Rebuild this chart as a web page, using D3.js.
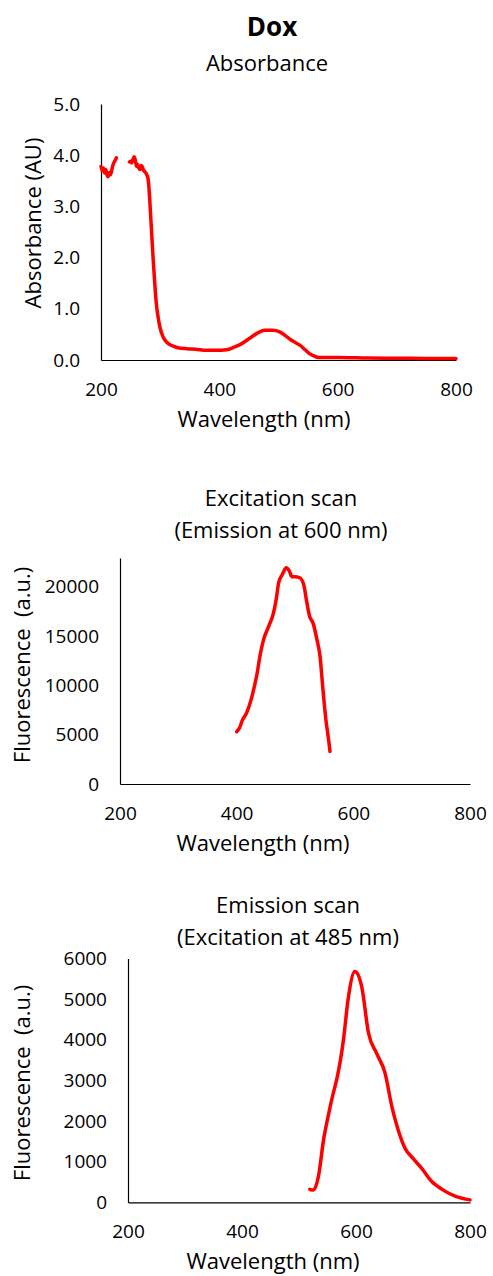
<!DOCTYPE html>
<html>
<head>
<meta charset="utf-8">
<script src="https://cdn.jsdelivr.net/npm/d3@7"></script>
<style>
  body { margin: 0; background: #fff; }
  svg text { font-family: "Open Sans", sans-serif; fill: #000; }
</style>
</head>
<body>
<div id="chart"></div>
<script>
// Absorbance spectrum (null = gap in the trace)
var absWl  = [200, 202, 204, 206, 208, 210, 212, 214, 216, 218, 220, 222, 224, 226, 236,
              248, 250, 252, 254, 256, 258, 260, 262, 264, 266, 268, 270, 272, 274, 276, 278, 280,
              282, 284, 286, 288, 290, 292, 294, 297, 300, 305, 310, 315, 322, 330, 345, 360, 378, 395,
              412, 425, 438, 452, 465, 477, 490, 502, 512, 520, 527, 536, 545, 553, 560, 567,
              600, 650, 700, 750, 800];
var absVal = [3.78, 3.70, 3.75, 3.65, 3.72, 3.62, 3.58, 3.66, 3.62, 3.70, 3.80, 3.86, 3.90, 3.95, null,
              3.87, 3.88, 3.85, 3.92, 3.97, 3.90, 3.78, 3.82, 3.75, 3.72, 3.80, 3.77, 3.70, 3.68, 3.65, 3.60, 3.50,
              3.20, 2.80, 2.40, 2.00, 1.65, 1.30, 1.05, 0.80, 0.62, 0.45, 0.36, 0.31, 0.27, 0.24, 0.22, 0.21, 0.19, 0.19,
              0.20, 0.25, 0.32, 0.43, 0.53, 0.58, 0.58, 0.55, 0.47, 0.40, 0.35, 0.29, 0.20, 0.12, 0.08, 0.05,
              0.05, 0.04, 0.035, 0.03, 0.03];

// Excitation scan (emission at 600 nm)
var exWl  = [400, 405, 410, 417, 425, 430, 435, 440, 446, 455, 463, 468, 472, 478, 485, 490,
             495, 500, 508, 515, 520, 525, 531, 537, 543, 548, 553, 558, 560];
var exVal = [5300, 5700, 6500, 7200, 8600, 9800, 11200, 13000, 14600, 16000, 17300, 18800, 20400, 21200, 21900, 21600,
             21000, 21000, 20900, 20200, 18500, 17000, 16300, 14800, 12900, 9500, 6500, 4300, 3300];

// Emission scan (excitation at 485 nm)
var emWl  = [519, 525, 534, 543, 551, 560, 566, 578, 586, 598, 610, 622, 636, 651, 663, 674,
             686, 700, 715, 733, 753, 776, 800];
var emVal = [320, 300, 630, 1530, 2110, 2680, 3010, 4000, 4980, 5680, 5310, 4160, 3670, 3180, 2350, 1780,
             1330, 1080, 840, 510, 300, 140, 60];

var xTicks = [200, 400, 600, 800];

var svg = d3.select("#chart").append("svg")
    .attr("width", 493)
    .attr("height", 1276);

// Figure title
svg.append("text")
    .attr("x", 272).attr("y", 27).attr("dy", "0.35em")
    .attr("text-anchor", "middle")
    .style("font-size", "26px").style("font-weight", "bold")
    .text("Dox");

function drawPanel(cfg) {
    var x = d3.scaleLinear().domain([200, 800]).range([cfg.left, cfg.right]);
    var y = d3.scaleLinear().domain([0, cfg.yMax]).range([cfg.bottom, cfg.top]);

    // chart titles
    cfg.titles.forEach(function (t, i) {
        svg.append("text")
            .attr("x", cfg.titleX).attr("y", cfg.titleY + i * 32).attr("dy", "0.35em")
            .attr("text-anchor", "middle")
            .style("font-size", "22px")
            .text(t);
    });

    // x axis
    var gx = svg.append("g")
        .attr("transform", "translate(0," + cfg.bottom + ")")
        .call(d3.axisBottom(x).tickValues(xTicks).tickSize(0).tickSizeOuter(0));
    gx.select(".domain").attr("stroke", "#000").attr("stroke-width", 1.2);
    gx.selectAll("text")
        .attr("y", 29).attr("dy", "0.35em")
        .style("font-size", "19px").style("font-family", "'Open Sans', sans-serif");

    // y axis
    var gy = svg.append("g")
        .attr("transform", "translate(" + cfg.left + ",0)")
        .call(d3.axisLeft(y).tickValues(cfg.yTicks).tickFormat(cfg.fmt).tickSize(0).tickSizeOuter(0).tickPadding(21));
    gy.select(".domain").attr("stroke", "#000").attr("stroke-width", 1.2);
    gy.selectAll("text")
        .style("font-size", "19px").style("font-family", "'Open Sans', sans-serif");

    // axis titles
    svg.append("text")
        .attr("x", cfg.xTitleX).attr("y", cfg.bottom + 59).attr("dy", "0.35em")
        .attr("text-anchor", "middle")
        .style("font-size", "22px")
        .text("Wavelength (nm)");

    svg.append("text")
        .attr("transform", "translate(" + cfg.yTitleX + "," + cfg.yTitleY + ") rotate(-90)")
        .attr("dy", "0.35em")
        .attr("text-anchor", "middle")
        .style("font-size", "22px")
        .style("white-space", "pre")
        .text(cfg.yTitle);

    // spectrum trace
    var pts = cfg.wl.map(function (w, i) { return [w, cfg.val[i]]; });
    var line = d3.line()
        .defined(function (d) { return d[1] !== null; })
        .x(function (d) { return x(d[0]); })
        .y(function (d) { return y(d[1]); })
        .curve(d3.curveMonotoneX);

    svg.append("path")
        .datum(pts)
        .attr("fill", "none")
        .attr("stroke", "#ff0000")
        .attr("stroke-width", 3.5)
        .attr("stroke-linejoin", "round")
        .attr("stroke-linecap", "round")
        .attr("d", line);
}

drawPanel({
    left: 101, right: 456, top: 104, bottom: 360, yMax: 5,
    yTicks: [0, 1, 2, 3, 4, 5], fmt: d3.format(".1f"),
    titles: ["Absorbance"], titleX: 267, titleY: 63,
    xTitleX: 264, yTitleX: 33, yTitleY: 223, yTitle: "Absorbance (AU)",
    wl: absWl, val: absVal
});

drawPanel({
    left: 120, right: 470, top: 558, bottom: 784, yMax: 22900,
    yTicks: [0, 5000, 10000, 15000, 20000], fmt: d3.format("d"),
    titles: ["Excitation scan", "(Emission at 600 nm)"], titleX: 281, titleY: 498,
    xTitleX: 263, yTitleX: 22, yTitleY: 665, yTitle: "Fluorescence  (a.u.)",
    wl: exWl, val: exVal
});

drawPanel({
    left: 128, right: 470, top: 958.5, bottom: 1202.3, yMax: 6000,
    yTicks: [0, 1000, 2000, 3000, 4000, 5000, 6000], fmt: d3.format("d"),
    titles: ["Emission scan", "(Excitation at 485 nm)"], titleX: 288, titleY: 905,
    xTitleX: 273, yTitleX: 22, yTitleY: 1083, yTitle: "Fluorescence  (a.u.)",
    wl: emWl, val: emVal
});
</script>
</body>
</html>
